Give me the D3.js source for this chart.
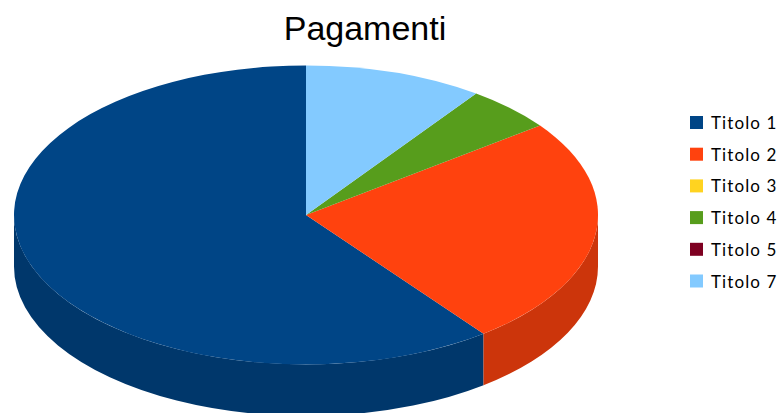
<!DOCTYPE html>
<html><head><meta charset="utf-8">
<script src="https://cdn.jsdelivr.net/npm/d3@7"></script>
<style>html,body{margin:0;padding:0;background:#fff;overflow:hidden}svg{display:block}</style>
</head><body><svg id="c" width="780" height="413"></svg>
<script>
const chartTitle = "Pagamenti";
const categories = ["Titolo 1","Titolo 2","Titolo 3","Titolo 4","Titolo 5","Titolo 7"];
const values = [60.4,24.8,0,4.9,0,9.9];
const colors = ["#004586","#ff420e","#ffd320","#579d1c","#7e0021","#83caff"];

const svg = d3.select("#c");
const cx=306, cy=215, rx=292, ry=149.5, depth=51.5;
const pie = d3.pie().sort(null).value(d=>d).startAngle(0).endAngle(-2*Math.PI);
const arcs = pie(values);
const arc = d3.arc().innerRadius(0).outerRadius(rx);
const pt = (a,dy=0)=>[cx+rx*Math.sin(a), cy-ry*Math.cos(a)+dy];

// side wall: visible where angle lies on the front half of the ellipse
const side = svg.append("g");
arcs.forEach((d,i)=>{
  let a0=Math.min(d.startAngle,d.endAngle), a1=Math.max(d.startAngle,d.endAngle);
  if(a1-a0===0) return;
  [[Math.PI/2,3*Math.PI/2],[-3*Math.PI/2,-Math.PI/2]].forEach(([lo,hi])=>{
    const s=Math.max(a0,lo), e=Math.min(a1,hi);
    if(e<=s) return;
    const p0=pt(s),p1=pt(e),q0=pt(s,depth),q1=pt(e,depth);
    const large=(e-s)>Math.PI?1:0;
    const dstr=`M${p0}A${rx},${ry} 0 ${large} 1 ${p1}L${q1}A${rx},${ry} 0 ${large} 0 ${q0}Z`;
    side.append("path").attr("d",dstr)
      .attr("fill",d3.rgb(colors[i]).darker(0.62).formatHex());
  });
});

// top face
svg.append("g").attr("transform",`translate(${cx},${cy}) scale(1,${ry/rx})`)
  .selectAll("path").data(arcs).join("path")
  .attr("d",arc).attr("fill",(d,i)=>colors[i]);

svg.append("text").attr("x",365).attr("y",39.5).attr("text-anchor","middle")
  .attr("font-family","Liberation Sans").attr("font-size",34).attr("fill","#000").text(chartTitle);

const ly = d3.scalePoint().domain(categories).range([122.5,281]);
const lg = svg.append("g").selectAll("g").data(categories).join("g")
  .attr("transform",d=>`translate(690,${ly(d)})`);
lg.append("rect").attr("x",0).attr("y",-6.5).attr("width",13).attr("height",13)
  .attr("fill",(d,i)=>colors[i]);
lg.append("text").attr("x",21).attr("y",6.5).attr("font-family","Lato")
  .attr("font-size",17).attr("letter-spacing",1.1).attr("fill","#000").text(d=>d);
</script></body></html>
